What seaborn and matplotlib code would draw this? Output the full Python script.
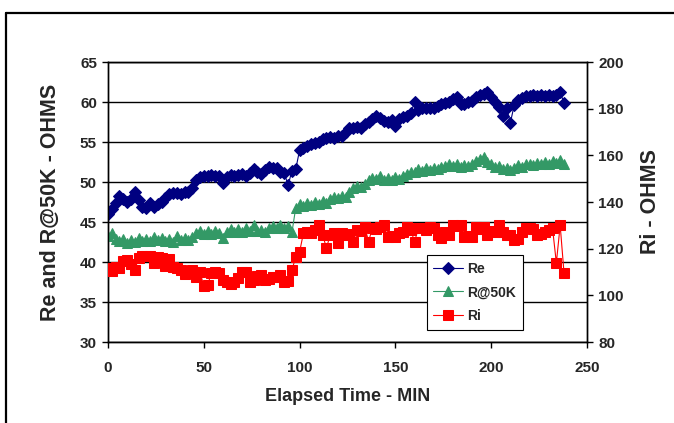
import matplotlib
matplotlib.use("Agg")
import matplotlib.pyplot as plt
from matplotlib.lines import Line2D
import numpy as np
import pandas as pd
import seaborn as sns

# ---- data ----
elapsed_min = list(range(0, 240, 2))

re_ohms = [
    46.0, 46.6, 47.4, 48.3, 47.9, 47.5, 47.9, 48.7, 47.7, 46.9,
    46.8, 47.4, 46.9, 47.2, 47.5, 48.0, 48.5, 48.6, 48.6, 48.5,
    48.7, 48.7, 49.3, 50.2, 50.6, 50.8, 50.7, 50.9, 50.7, 50.8,
    49.9, 50.6, 50.9, 50.8, 50.9, 51.0, 50.8, 51.1, 51.6, 51.2,
    51.0, 51.5, 51.9, 51.7, 51.8, 51.3, 51.1, 49.6, 51.4, 51.6,
    54.0, 54.3, 54.5, 54.8, 54.9, 55.0, 55.4, 55.5, 55.6, 55.5,
    55.7, 55.7, 56.2, 56.7, 56.8, 56.9, 56.8, 57.2, 57.5, 57.9,
    58.2, 58.0, 57.6, 57.5, 57.8, 57.0, 57.9, 58.1, 58.3, 58.6,
    60.0, 59.0, 59.2, 59.3, 59.3, 59.2, 59.5, 59.7, 59.9, 60.0,
    60.4, 60.6, 59.8, 59.7, 60.0, 60.1, 60.6, 60.9, 61.0, 61.2,
    60.6, 60.0, 59.4, 58.2, 59.3, 57.4, 59.6, 60.3, 60.5, 60.7,
    60.8, 60.9, 60.8, 60.9, 60.8, 60.9, 60.8, 60.9, 61.2, 59.9,
]

r50k_ohms = [
    43.2, 43.6, 42.9, 42.6, 42.9, 42.4, 42.8, 42.5, 43.0, 42.6,
    42.9, 42.6, 43.1, 42.7, 43.0, 42.6, 42.9, 42.5, 43.2, 42.7,
    43.0, 42.8, 43.1, 43.6, 43.9, 43.5, 43.9, 43.5, 43.9, 43.6,
    43.0, 43.8, 44.1, 43.7, 44.1, 43.8, 44.2, 43.9, 44.6, 43.9,
    44.0, 43.8, 44.3, 44.5, 44.2, 44.6, 44.3, 44.5, 43.7, 46.8,
    47.2, 47.0, 47.4, 47.1, 47.5, 47.3, 47.6, 47.4, 47.9, 48.1,
    48.0, 48.3, 48.1, 48.7, 49.2, 49.5, 49.4, 49.8, 50.2, 50.5,
    50.4, 50.7, 50.3, 50.5, 50.3, 50.6, 50.4, 50.7, 51.0, 51.3,
    51.3, 51.6, 51.4, 51.7, 51.5, 51.8, 51.6, 51.9, 52.0, 52.2,
    52.0, 52.2, 51.9, 52.1, 52.0, 52.3, 52.6, 52.9, 53.1, 52.5,
    52.2, 51.9, 52.0, 51.6, 51.7, 51.5, 51.8, 52.1, 51.9, 52.2,
    52.3, 52.1, 52.4, 52.2, 52.5, 52.3, 52.6, 52.4, 52.7, 52.3,
]

ri_ohms = [
    111.5, 110.5, 112.0, 111.5, 114.5, 115.0, 113.5, 110.8, 116.2, 116.8,
    116.8, 117.0, 113.8, 116.5, 116.2, 112.5, 115.5, 112.0, 111.5, 111.0,
    109.0, 109.6, 111.0, 108.0, 110.0, 104.0, 104.5, 109.6, 109.8, 109.4,
    106.5, 105.5, 105.0, 105.8, 107.4, 109.8, 110.0, 105.5, 106.6, 108.4,
    108.7, 106.6, 106.8, 108.0, 107.9, 108.7, 105.7, 106.0, 110.9, 116.4,
    118.6, 126.7, 127.0, 126.5, 128.0, 130.0, 126.0, 120.3, 125.9, 126.7,
    122.4, 126.5, 125.9, 126.3, 123.0, 128.0, 127.5, 129.4, 123.0, 129.0,
    128.5, 129.2, 130.0, 125.0, 125.5, 124.8, 126.7, 127.0, 129.3, 128.0,
    123.0, 128.8, 129.0, 128.0, 129.3, 128.8, 125.9, 124.6, 127.0, 126.0,
    130.0, 129.6, 130.0, 125.0, 125.5, 125.0, 129.3, 128.5, 129.3, 126.0,
    127.5, 127.0, 130.0, 127.0, 126.0, 126.0, 123.7, 124.0, 127.0, 128.8,
    128.8, 128.5, 126.0, 126.3, 127.0, 128.0, 128.8, 113.9, 130.0, 109.6,
]

x_ticks = [0, 50, 100, 150, 200, 250]
left_ticks = [30, 35, 40, 45, 50, 55, 60, 65]
right_ticks = [80, 100, 120, 140, 160, 180, 200]

df = pd.DataFrame({"t": elapsed_min, "Re": re_ohms, "R@50K": r50k_ohms, "Ri": ri_ohms})

# ---- style ----
sns.set_style("white")
plt.rcParams["font.family"] = ["Liberation Sans", "DejaVu Sans"]
plt.rcParams["font.weight"] = "bold"

fig = plt.figure(figsize=(6.74, 4.23), dpi=100)
ax = fig.add_axes([108 / 674, 1 - 342 / 423, 479 / 674, 280 / 423])
ax2 = ax.twinx()

navy = "#000080"
green = "#339966"
red = "#FF0000"

sns.lineplot(data=df, x="t", y="Re", ax=ax, color=navy, marker="D", markersize=6.5,
             markeredgecolor=navy, linewidth=0.8, label="Re", zorder=3)
sns.lineplot(data=df, x="t", y="R@50K", ax=ax, color=green, marker="^", markersize=7,
             markeredgecolor=green, linewidth=0.8, label="R@50K", zorder=3)
sns.lineplot(data=df, x="t", y="Ri", ax=ax2, color=red, marker="s", markersize=6.8,
             markeredgecolor=red, linewidth=0.8, label="Ri", zorder=3)

ax.set_xlim(0, 250)
ax.set_ylim(30, 65)
ax2.set_ylim(80, 200)
ax.set_xticks(x_ticks)
ax.set_yticks(left_ticks)
ax2.set_yticks(right_ticks)

ax.yaxis.grid(True, color="black", linewidth=1.0)
ax.xaxis.grid(False)
ax2.grid(False)
ax.set_axisbelow(True)

for a in (ax, ax2):
    for s in a.spines.values():
        s.set_color("black")
        s.set_linewidth(1.0)
        s.set_visible(True)

ax.tick_params(axis="y", which="major", direction="out", length=4, width=1,
               color="black", labelsize=11, pad=4)
ax.tick_params(axis="x", which="major", direction="out", length=4, width=1,
               color="black", labelsize=11, pad=10)
ax2.tick_params(axis="y", which="major", direction="out", length=4, width=1,
                color="black", labelsize=11, pad=4)
ax.tick_params(left=True, bottom=True)
ax2.tick_params(right=True)
for lab in ax.get_xticklabels() + ax.get_yticklabels() + ax2.get_yticklabels():
    lab.set_fontweight("bold")

ax.set_xlabel("Elapsed Time - MIN", fontsize=13, fontweight="bold", labelpad=9)
ax.set_ylabel("Re and R@50K - OHMS", fontsize=15.5, fontweight="bold", labelpad=14)
ax2.set_ylabel("Ri - OHMS", fontsize=15.5, fontweight="bold", labelpad=12)

# legend
if ax.get_legend() is not None:
    ax.get_legend().remove()
if ax2.get_legend() is not None:
    ax2.get_legend().remove()
h1, l1 = ax.get_legend_handles_labels()
h2, l2 = ax2.get_legend_handles_labels()
leg = ax2.legend(h1 + h2, l1 + l2, loc="lower left", bbox_to_anchor=(0.665, 0.043),
                 borderaxespad=0, frameon=True, fancybox=False, edgecolor="black",
                 framealpha=1, prop={"size": 10, "weight": "bold"}, handlelength=2.1,
                 handletextpad=0.3, borderpad=0.5, labelspacing=0.7)
leg.get_frame().set_linewidth(0.8)

# chart-area border (cropped)
fig.add_artist(Line2D([6 / 674, 6 / 674], [0, 1 - 13 / 423], transform=fig.transFigure,
                      color="black", linewidth=1.6))
fig.add_artist(Line2D([6 / 674, 1], [1 - 13 / 423, 1 - 13 / 423], transform=fig.transFigure,
                      color="black", linewidth=1.6))

fig.savefig("out.png", dpi=100)
